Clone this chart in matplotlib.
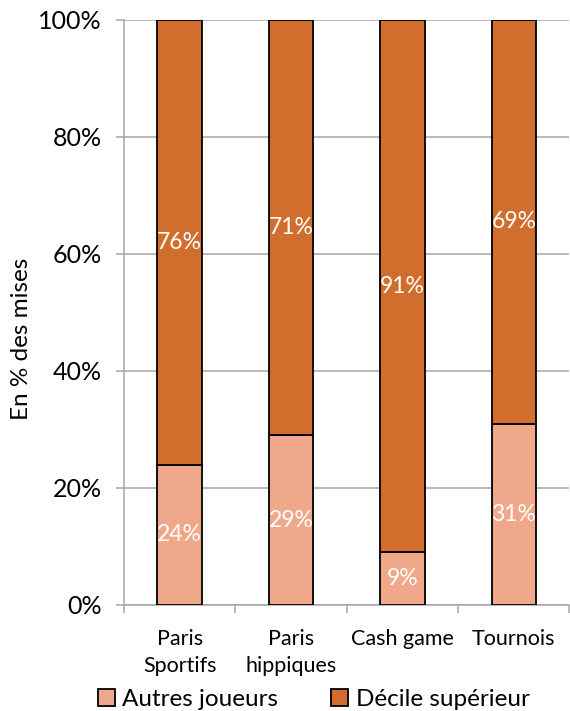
import matplotlib
matplotlib.use("Agg")
import matplotlib.pyplot as plt
from matplotlib.ticker import FixedLocator, FuncFormatter

plt.rcParams['font.family'] = ['Lato', 'DejaVu Sans']

categories = ["Paris\nSportifs", "Paris\nhippiques", "Cash game", "Tournois"]
autres = [24, 29, 9, 31]
decile = [76, 71, 91, 69]
series_names = ["Autres joueurs", "Décile supérieur"]
yticks = [0, 20, 40, 60, 80, 100]

col_light = "#F0A88A"
col_dark = "#D26E2D"
grid_col = "#A6A6A6"

fig = plt.figure(figsize=(5.70, 7.11), dpi=100)
ax = fig.add_axes([0.2175, 0.1491, 0.7816, 0.8228])

x = list(range(len(categories)))
w = 0.40
b1 = ax.bar(x, autres, width=w, color=col_light, edgecolor="black", linewidth=1.3,
            label=series_names[0], zorder=3)
b2 = ax.bar(x, decile, width=w, bottom=autres, color=col_dark, edgecolor="black",
            linewidth=1.3, label=series_names[1], zorder=3)

for i in x:
    ax.text(i, autres[i] / 2, f"{autres[i]}%", ha="center", va="center",
            color="white", fontsize=16.5, zorder=4)
    ax.text(i, autres[i] + decile[i] / 2, f"{decile[i]}%", ha="center", va="center",
            color="white", fontsize=16.5, zorder=4)

ax.set_xlim(-0.5, len(categories) - 0.5)
ax.set_ylim(0, 100)
ax.yaxis.set_major_locator(FixedLocator(yticks))
ax.yaxis.set_major_formatter(FuncFormatter(lambda v, p: f"{int(v)}%"))
ax.grid(axis="y", color=grid_col, linewidth=1.1, zorder=0)
ax.set_axisbelow(True)

ax.set_xticks(x)
ax.set_xticklabels(categories, fontsize=15.5, linespacing=1.45)
ax.tick_params(axis="x", which="major", length=0, pad=17)
ax.set_xticks([i - 0.5 for i in range(len(categories) + 1)], minor=True)
ax.tick_params(axis="x", which="minor", length=6, color=grid_col, width=1.1)
ax.tick_params(axis="y", length=6, color=grid_col, width=1.1, labelsize=18, pad=10)

for s in ["top", "right"]:
    ax.spines[s].set_visible(False)
for s in ["left", "bottom"]:
    ax.spines[s].set_color(grid_col)
    ax.spines[s].set_linewidth(1.1)

ax.set_ylabel("En % des mises", fontsize=17.5)
ax.yaxis.set_label_coords(-0.206, 0.455)

fig.legend(handles=[b1, b2], labels=series_names, loc="center", ncol=2,
           bbox_to_anchor=(0.55, 0.016), frameon=False, fontsize=17.5,
           handlelength=0.7, handleheight=0.7, handletextpad=0.3,
           columnspacing=2.2)

fig.savefig("out.png", dpi=100)
